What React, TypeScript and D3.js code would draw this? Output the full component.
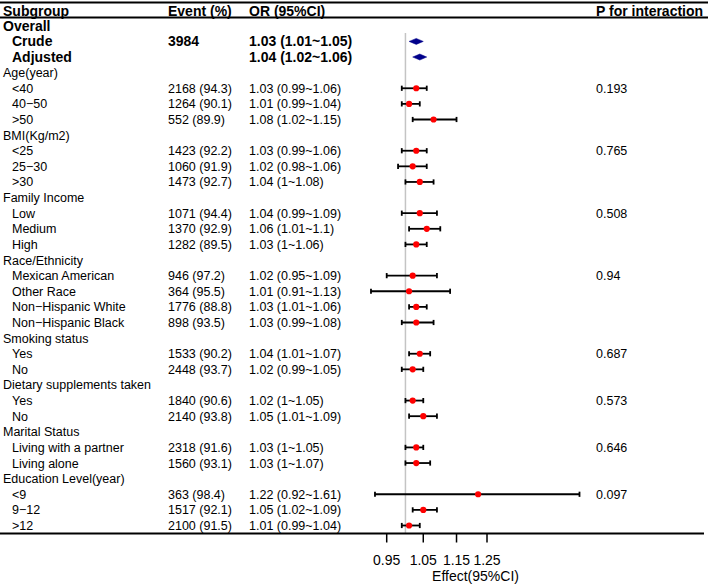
import React from "react";
import * as d3 from "d3";

const labels = [
  "Overall", "Crude", "Adjusted",
  "Age(year)", "<40", "40\u221250", ">50",
  "BMI(Kg/m2)", "<25", "25\u221230", ">30",
  "Family Income", "Low", "Medium", "High",
  "Race/Ethnicity", "Mexican American", "Other Race", "Non\u2212Hispanic White", "Non\u2212Hispanic Black",
  "Smoking status", "Yes", "No",
  "Dietary supplements taken", "Yes", "No",
  "Marital Status", "Living with a partner", "Living alone",
  "Education Level(year)", "<9", "9\u221212", ">12",
];
// gb = bold group heading, g = group heading, s = summary (bold), i = item
const kinds = [
  "gb", "s", "s",
  "g", "i", "i", "i",
  "g", "i", "i", "i",
  "g", "i", "i", "i",
  "g", "i", "i", "i", "i",
  "g", "i", "i",
  "g", "i", "i",
  "g", "i", "i",
  "g", "i", "i", "i",
];
const events = [
  "", "3984", "",
  "", "2168 (94.3)", "1264 (90.1)", "552 (89.9)",
  "", "1423 (92.2)", "1060 (91.9)", "1473 (92.7)",
  "", "1071 (94.4)", "1370 (92.9)", "1282 (89.5)",
  "", "946 (97.2)", "364 (95.5)", "1776 (88.8)", "898 (93.5)",
  "", "1533 (90.2)", "2448 (93.7)",
  "", "1840 (90.6)", "2140 (93.8)",
  "", "2318 (91.6)", "1560 (93.1)",
  "", "363 (98.4)", "1517 (92.1)", "2100 (91.5)",
];
const est = [
  null, 1.03, 1.04,
  null, 1.03, 1.01, 1.08,
  null, 1.03, 1.02, 1.04,
  null, 1.04, 1.06, 1.03,
  null, 1.02, 1.01, 1.03, 1.03,
  null, 1.04, 1.02,
  null, 1.02, 1.05,
  null, 1.03, 1.03,
  null, 1.22, 1.05, 1.01,
];
const lower = [
  null, 1.01, 1.02,
  null, 0.99, 0.99, 1.02,
  null, 0.99, 0.98, 1.0,
  null, 0.99, 1.01, 1.0,
  null, 0.95, 0.91, 1.01, 0.99,
  null, 1.01, 0.99,
  null, 1.0, 1.01,
  null, 1.0, 1.0,
  null, 0.92, 1.02, 0.99,
];
const upper = [
  null, 1.05, 1.06,
  null, 1.06, 1.04, 1.15,
  null, 1.06, 1.06, 1.08,
  null, 1.09, 1.1, 1.06,
  null, 1.09, 1.13, 1.06, 1.08,
  null, 1.07, 1.05,
  null, 1.05, 1.09,
  null, 1.05, 1.07,
  null, 1.61, 1.09, 1.04,
];
const pInteraction = [
  "", "", "",
  "", "0.193", "", "",
  "", "0.765", "", "",
  "", "0.508", "", "",
  "", "0.94", "", "", "",
  "", "0.687", "",
  "", "0.573", "",
  "", "0.646", "",
  "", "0.097", "", "",
];
const headers = ["Subgroup", "Event (%)", "OR (95%CI)", "P for interaction"];
const tickValues = [0.95, 1.05, 1.15, 1.25];
const axisTitle = "Effect(95%CI)";

const W = 708;
const H = 586;
const FONT = "'Liberation Sans', Arial, Helvetica, sans-serif";

export default function App() {
  const x = d3.scaleLog().domain([0.95, 1.25]).range([386.7, 487.0]);
  const y = d3.scaleLinear().domain([0, labels.length - 1]).range([25.8, 525.5]);
  const colX = { sub: 3, ev: 168, or: 249, p: 596 };
  const fmt = (v: number) => String(v);
  const axisY = 533.5;

  return (
    <svg
      width={W}
      height={H}
      style={{ position: "absolute", left: 0, top: 0, background: "#fff" }}
      fontFamily={FONT}
    >
      <rect x={0} y={0} width={W} height={H} fill="#fff" />
      {/* header */}
      <line x1={0} x2={W} y1={2.5} y2={2.5} stroke="#000" strokeWidth={2} />
      <line x1={0} x2={W} y1={17.5} y2={17.5} stroke="#000" strokeWidth={2} />
      <text x={colX.sub} y={16} fontSize={14} fontWeight="bold">{headers[0]}</text>
      <text x={colX.ev} y={16} fontSize={14} fontWeight="bold">{headers[1]}</text>
      <text x={colX.or} y={16} fontSize={14} fontWeight="bold">{headers[2]}</text>
      <text x={colX.p} y={16} fontSize={14} fontWeight="bold">{headers[3]}</text>

      {/* reference line */}
      <line x1={x(1)} x2={x(1)} y1={33} y2={axisY} stroke="#c4c4c4" strokeWidth={1.5} />

      {labels.map((lab, i) => {
        const k = kinds[i];
        const bold = k === "gb" || k === "s";
        const fs = bold ? 14 : 12.5;
        const cy = y(i);
        const base = cy + (bold ? 5 : 4.5);
        const indent = k === "i" || k === "s" ? 9 : 0;
        const e = est[i];
        const lo = lower[i];
        const hi = upper[i];
        return (
          <g key={i}>
            <text x={colX.sub + indent} y={base} fontSize={fs} fontWeight={bold ? "bold" : "normal"}>{lab}</text>
            {events[i] && (
              <text x={colX.ev} y={base} fontSize={fs} fontWeight={bold ? "bold" : "normal"}>{events[i]}</text>
            )}
            {e != null && (
              <text x={colX.or} y={base} fontSize={fs} fontWeight={bold ? "bold" : "normal"}>
                {`${fmt(e)} (${fmt(lo as number)}~${fmt(hi as number)})`}
              </text>
            )}
            {pInteraction[i] && (
              <text x={colX.p} y={base} fontSize={12.5}>{pInteraction[i]}</text>
            )}
            {e != null && k === "s" && (
              <path
                d={`M${x(lo as number)},${cy} L${x(e)},${cy - 3} L${x(hi as number)},${cy} L${x(e)},${cy + 3} Z`}
                fill="#00008B"
                stroke="#00008B"
                strokeWidth={0.5}
              />
            )}
            {e != null && k === "i" && (
              <g>
                <line x1={x(lo as number)} x2={x(hi as number)} y1={cy} y2={cy} stroke="#000" strokeWidth={1.8} />
                <line x1={x(lo as number)} x2={x(lo as number)} y1={cy - 2.6} y2={cy + 2.6} stroke="#000" strokeWidth={1.8} />
                <line x1={x(hi as number)} x2={x(hi as number)} y1={cy - 2.6} y2={cy + 2.6} stroke="#000" strokeWidth={1.8} />
                <circle cx={x(e)} cy={cy} r={3.1} fill="#ff0000" />
              </g>
            )}
          </g>
        );
      })}

      {/* bottom line + axis */}
      <line x1={0} x2={704} y1={axisY} y2={axisY} stroke="#000" strokeWidth={2} />
      {tickValues.map((t) => (
        <g key={t}>
          <line x1={x(t)} x2={x(t)} y1={axisY} y2={axisY + 9} stroke="#000" strokeWidth={1.5} />
          <text x={x(t)} y={565} fontSize={14} textAnchor="middle">{String(t)}</text>
        </g>
      ))}
      <text x={475.5} y={581} fontSize={14} textAnchor="middle">{axisTitle}</text>
    </svg>
  );
}
